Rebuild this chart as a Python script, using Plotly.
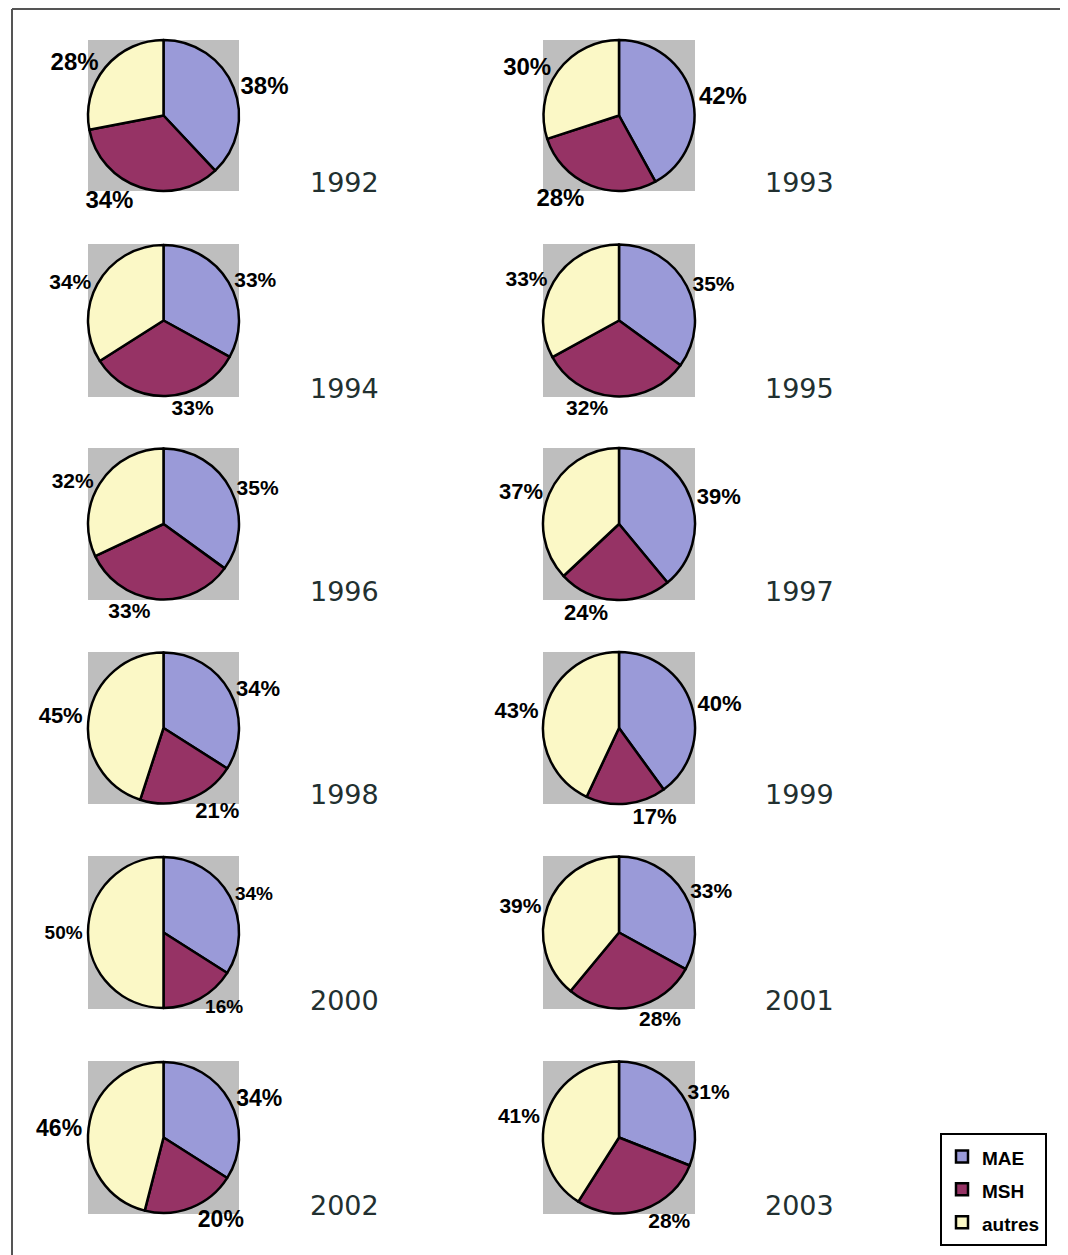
import plotly.graph_objects as go

# page has an 8px body margin; figure fills the rest of the 1068x1255 window
OFF = 8
W, H = 1068 - OFF, 1255 - OFF

categories = ["MAE", "MSH", "autres"]
years = ["1992", "1993", "1994", "1995", "1996", "1997",
         "1998", "1999", "2000", "2001", "2002", "2003"]
mae = [38, 42, 33, 35, 35, 39, 34, 40, 34, 33, 34, 31]
msh = [34, 28, 33, 32, 33, 24, 21, 17, 16, 28, 20, 28]
autres = [28, 30, 34, 33, 32, 37, 45, 43, 50, 39, 46, 41]

colors = ["#9a9ad8", "#963365", "#fbf8c6"]
label_sizes = [24, 24, 21, 21, 21, 22, 22, 22, 19, 21, 23, 21]

col_x = [(88, 239), (543, 695)]
row_y = [(40, 191), (244, 397), (448, 600), (652, 804), (856, 1009), (1061, 1214)]


def fx(x):
    return (x - OFF) / W


def fy(y):
    return 1 - (y - OFF) / H


fig = go.Figure()
shapes = []
annotations = []

legend_labels = [f"<span style='font-size:19px'>{c}</span>" for c in categories]

for i, yr in enumerate(years):
    r, c = divmod(i, 2)
    x0, x1 = col_x[c]
    y0, y1 = row_y[r]
    dom_x = [fx(x0), fx(x1)]
    dom_y = [fy(y1), fy(y0)]
    shapes.append(dict(type="rect", xref="paper", yref="paper",
                       x0=dom_x[0], x1=dom_x[1], y0=dom_y[0], y1=dom_y[1],
                       fillcolor="#bebebe", line=dict(width=0), layer="below"))
    fig.add_trace(go.Pie(
        labels=legend_labels,
        values=[mae[i], msh[i], autres[i]],
        domain=dict(x=dom_x, y=dom_y),
        sort=False, direction="clockwise", rotation=0,
        marker=dict(colors=colors, line=dict(color="black", width=2.5)),
        textposition="outside",
        texttemplate="%{value}%",
        textfont=dict(family="Liberation Sans", size=label_sizes[i],
                      color="black", weight="bold"),
        hoverinfo="skip",
        showlegend=(i == 0),
    ))
    annotations.append(dict(
        text=yr, xref="paper", yref="paper",
        x=fx(x1 + 105), y=fy(y1 - 9),
        xanchor="center", yanchor="middle", showarrow=False,
        font=dict(family="DejaVu Sans", size=27, color="#223030")))

# frame lines (top and left)
shapes.append(dict(type="line", xref="paper", yref="paper",
                   x0=fx(12), x1=1, y0=fy(9), y1=fy(9),
                   line=dict(color="#555555", width=2)))
shapes.append(dict(type="line", xref="paper", yref="paper",
                   x0=fx(12), x1=fx(12), y0=0, y1=fy(9),
                   line=dict(color="#555555", width=2)))

fig.update_layout(
    width=W, height=H,
    margin=dict(l=0, r=0, t=0, b=0),
    paper_bgcolor="white",
    shapes=shapes,
    annotations=annotations,
    showlegend=True,
    legend=dict(x=fx(940), y=fy(1133), xanchor="left", yanchor="top",
                bgcolor="white", bordercolor="black", borderwidth=2,
                font=dict(family="Liberation Sans", size=23, color="black", weight="bold"),
                itemwidth=30, tracegroupgap=0),
)

fig.write_html("out.html")
